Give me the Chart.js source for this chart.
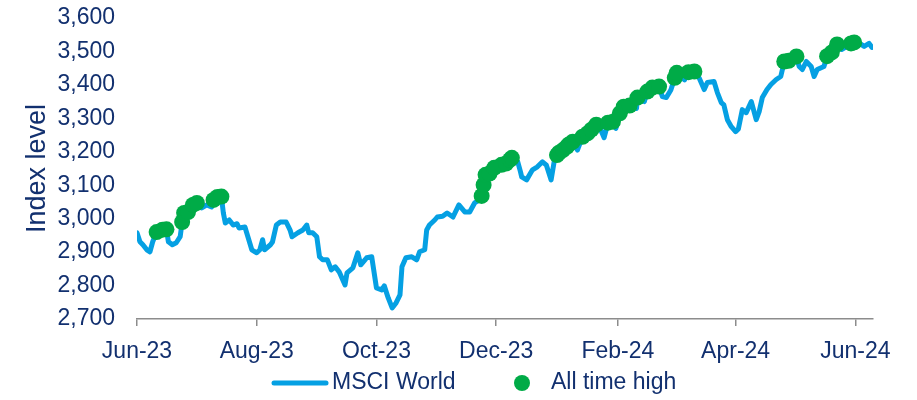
<!DOCTYPE html>
<html>
<head>
<meta charset="utf-8">
<script src="https://cdn.jsdelivr.net/npm/chart.js@4.4.1/dist/chart.umd.min.js"></script>
<style>
  html, body { margin: 0; padding: 0; background: #fff; }
  #wrap { width: 917px; height: 400px; }
</style>
</head>
<body>
<div id="wrap"><canvas id="chart"></canvas></div>
<script>
// days since 1 Jun 2023, and index level
const days = [0, 1.5, 3, 5, 6.6, 8, 10, 13, 15, 16, 18, 20, 22, 23, 24, 26, 28.5, 30.5, 33, 35.6, 38, 39, 41, 43, 44, 45, 47, 49, 51, 52, 55, 56.5, 58.5,
  61, 62.6, 64, 65, 68, 69, 71, 73, 76, 78, 79, 82, 84.5, 86.5, 87.5, 89.5, 91.6, 93, 94.6, 97, 99, 101, 103, 106, 107, 110, 112.5, 114, 117, 119.6,
  122, 124.7, 126, 128, 130, 132, 134, 135, 137, 140, 142.5, 144, 146.6, 147.6, 149, 151.7, 153, 155.7, 158, 161, 164, 167, 169.5, 172, 174.5,
  175.6, 176.6, 177.6, 179.6, 182, 185.7, 188, 190, 191, 194, 195.4, 196, 198.5, 201.5, 204, 206.6, 208.6, 211, 212.7, 214, 215, 217, 219, 220, 222,
  224.4, 227, 229.5, 231.5, 234, 235.6, 238, 240, 242.5, 244, 246, 248, 251, 254.5, 255, 258.5, 260, 262.6, 266, 267.7, 269.7, 272, 274, 275, 279,
  281, 284, 286.5, 289, 290.6, 294, 295.7, 297.7, 299, 300.8, 302.8, 305, 306.4, 308.4, 310.4, 313, 315.5, 317, 318.6, 321, 323, 325.7, 328,
  329.8, 332, 336, 337.4, 339, 341, 343.5, 345, 346.6, 350, 351.6, 354, 356.7, 359, 361.8, 363.8, 365.4, 369, 370.5, 373, 374.5];
const values = [2958, 2931, 2922, 2907, 2901, 2931, 2960, 2967, 2968, 2931, 2922, 2928, 2946, 2990, 3017, 3020, 3041, 3047, 3032, 3041, 3035, 3056, 3065, 3066, 3017, 2987, 2996, 2981, 2985, 2972, 2975, 2946, 2907,
  2898, 2907, 2937, 2907, 2922, 2930, 2981, 2990, 2990, 2966, 2946, 2958, 2966, 2981, 2958, 2958, 2946, 2886, 2877, 2877, 2847, 2856, 2841, 2802, 2838, 2853, 2898, 2862, 2883, 2886,
  2793, 2787, 2799, 2763, 2733, 2748, 2772, 2856, 2883, 2886, 2877, 2901, 2907, 2966, 2981, 2996, 3005, 3007, 3017, 3005, 3041, 3020, 3020, 3047, 3056,
  3068, 3101, 3131, 3135, 3152, 3161, 3165, 3176, 3182, 3170, 3140, 3125, 3116, 3146, 3155, 3170, 3160, 3116, 3176, 3190, 3197, 3205, 3215, 3222, 3230,
  3205, 3245, 3255, 3266, 3281, 3275, 3242, 3287, 3290, 3270, 3315, 3335, 3338, 3330, 3362, 3350, 3380, 3392, 3395, 3365, 3362, 3385, 3421, 3436, 3415,
  3438, 3440, 3420, 3386, 3407, 3410, 3377, 3347, 3340, 3296, 3275, 3260, 3268, 3326, 3317, 3350, 3296, 3320, 3362, 3386, 3401, 3416, 3425,
  3470, 3472, 3485, 3455, 3446, 3470, 3455, 3425, 3446, 3455, 3486, 3497, 3521, 3506, 3515, 3524, 3527, 3521, 3515, 3524, 3512];
// days on which a new all time high was set
const athDays = [10, 13, 15, 23, 24, 26, 28.5, 30.5, 39, 41, 43, 175.6, 176.6, 177.6, 179.6, 182, 185.7, 188, 190, 191,
  214, 215, 217, 219, 220, 222, 227, 229.5, 231.5, 234, 240, 242.5, 246, 248, 251, 255, 260, 262.6, 266, 274, 275, 281, 284,
  329.8, 332, 336, 351.6, 354, 356.7, 363.8, 365.4];
const tickDays = [0, 61, 122, 183, 245, 305, 366];
const tickLabels = ['Jun-23', 'Aug-23', 'Oct-23', 'Dec-23', 'Feb-24', 'Apr-24', 'Jun-24'];
const seriesNames = ['MSCI World', 'All time high'];

const blue = '#05a0e3';
const green = '#00ab47';
const navy = '#12306f';
const axisGrey = '#8c8c8c';
const fontFamily = '"Liberation Sans", Arial, sans-serif';

const linePoints = days.map((d, i) => ({ x: d, y: values[i] }));
const athPoints = athDays.map(d => ({ x: d, y: values[days.indexOf(d)] }));

// legend drawn under the axis, line swatch + dot
const bottomLegend = {
  id: 'bottomLegend',
  afterDraw(chart) {
    const ctx = chart.ctx;
    const y = 383;
    ctx.save();
    ctx.strokeStyle = blue;
    ctx.lineWidth = 5;
    ctx.lineCap = 'round';
    ctx.beginPath();
    ctx.moveTo(274, y);
    ctx.lineTo(326, y);
    ctx.stroke();
    ctx.fillStyle = green;
    ctx.beginPath();
    ctx.arc(522, y, 8, 0, Math.PI * 2);
    ctx.fill();
    ctx.fillStyle = navy;
    ctx.font = '23px ' + fontFamily;
    ctx.textBaseline = 'middle';
    ctx.fillText(seriesNames[0], 332, y);
    ctx.fillText(seriesNames[1], 551, y);
    ctx.restore();
  }
};

new Chart(document.getElementById('chart'), {
  type: 'line',
  data: {
    datasets: [
      {
        label: seriesNames[1],
        data: athPoints,
        showLine: false,
        pointRadius: 8,
        pointHoverRadius: 8,
        pointBackgroundColor: green,
        pointBorderWidth: 0,
        order: 0
      },
      {
        label: seriesNames[0],
        data: linePoints,
        borderColor: blue,
        borderWidth: 5,
        borderJoinStyle: 'round',
        borderCapStyle: 'round',
        pointRadius: 0,
        tension: 0,
        order: 1
      }
    ]
  },
  options: {
    responsive: true,
    maintainAspectRatio: false,
    animation: false,
    devicePixelRatio: 1,
    layout: { padding: { top: 18, right: 44, left: 0, bottom: 0 } },
    plugins: {
      legend: { display: false },
      tooltip: { enabled: false }
    },
    scales: {
      x: {
        type: 'linear',
        min: 0,
        max: 375,
        afterBuildTicks: s => { s.ticks = tickDays.map(v => ({ value: v })); },
        afterFit: s => { s.height = 81; },
        ticks: {
          callback: (v, i) => tickLabels[i],
          autoSkip: false,
          maxRotation: 0,
          color: navy,
          font: { family: fontFamily, size: 23 },
          padding: 12
        },
        grid: {
          drawOnChartArea: false,
          drawTicks: true,
          tickLength: 7,
          color: axisGrey,
          lineWidth: 1.5
        },
        border: { display: true, color: axisGrey, width: 1.5 }
      },
      y: {
        min: 2700,
        max: 3600,
        afterFit: s => { s.width = 137; s.paddingTop = 0; s.paddingBottom = 0; },
        ticks: {
          stepSize: 100,
          callback: v => v.toLocaleString('en-US'),
          color: navy,
          font: { family: fontFamily, size: 23 },
          padding: 22
        },
        grid: { display: false, drawTicks: false },
        border: { display: false },
        title: {
          display: true,
          text: 'Index level',
          color: navy,
          font: { family: fontFamily, size: 27 },
          padding: { top: 21, bottom: 0 }
        }
      }
    }
  },
  plugins: [bottomLegend]
});
</script>
</body>
</html>
